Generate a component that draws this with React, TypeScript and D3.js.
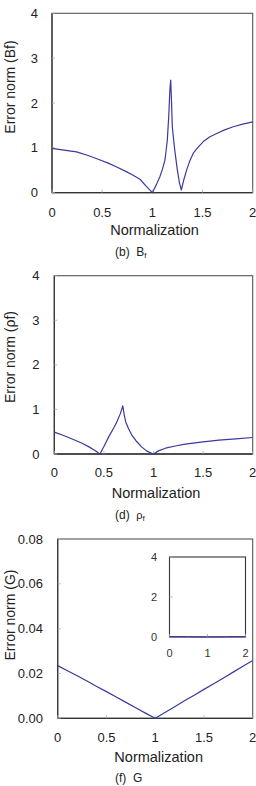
import React, { useEffect } from "react";
import * as d3 from "d3";

// ---------- data ----------
const bfX = [0, 0.12, 0.245, 0.36, 0.48, 0.56, 0.64, 0.74, 0.8, 0.877, 0.94, 1.0, 1.04, 1.076, 1.1, 1.126, 1.149, 1.163, 1.175, 1.183, 1.19, 1.199, 1.219, 1.235, 1.249, 1.27, 1.289, 1.31, 1.342, 1.375, 1.408, 1.45, 1.508, 1.57, 1.641, 1.72, 1.807, 1.9, 2.0];
const bfY = [0.99, 0.95, 0.91, 0.83, 0.73, 0.66, 0.58, 0.47, 0.4, 0.3, 0.14, 0.0, 0.18, 0.36, 0.52, 0.73, 1.17, 1.69, 2.3, 2.51, 2.1, 1.47, 1.03, 0.75, 0.51, 0.22, 0.06, 0.26, 0.51, 0.72, 0.88, 1.0, 1.14, 1.24, 1.32, 1.4, 1.47, 1.53, 1.58];

const rfX = [0, 0.1, 0.21, 0.28, 0.35, 0.41, 0.46, 0.5, 0.55, 0.6, 0.63, 0.665, 0.69, 0.705, 0.72, 0.75, 0.78, 0.83, 0.88, 0.93, 0.985, 1.0, 1.05, 1.12, 1.22, 1.32, 1.5, 1.66, 1.83, 2.0];
const rfY = [0.49, 0.41, 0.31, 0.24, 0.16, 0.08, 0.0, 0.17, 0.39, 0.59, 0.72, 0.9, 1.08, 0.88, 0.72, 0.56, 0.43, 0.28, 0.16, 0.07, 0.01, 0.0, 0.07, 0.13, 0.18, 0.22, 0.27, 0.31, 0.34, 0.37];

const gX = [0, 0.1, 0.2, 0.3, 0.4, 0.5, 0.6, 0.7, 0.8, 0.9, 1.0, 1.1, 1.2, 1.3, 1.4, 1.5, 1.6, 1.7, 1.8, 1.9, 2.0];
const gY = [0.0235, 0.0212, 0.019, 0.0166, 0.0142, 0.0119, 0.0095, 0.0071, 0.0047, 0.0023, 0.0, 0.0026, 0.0052, 0.0078, 0.0103, 0.0129, 0.0154, 0.018, 0.0206, 0.0232, 0.0258];

const xTicks = [0, 0.5, 1, 1.5, 2];
const xTickLabels = ["0", "0.5", "1", "1.5", "2"];
const yTicksAB = [0, 1, 2, 3, 4];
const yTicksG = [0, 0.02, 0.04, 0.06, 0.08];
const yTickLabelsG = ["0.00", "0.02", "0.04", "0.06", "0.08"];
const insetXTicks = [0, 1, 2];
const insetYTicks = [0, 2, 4];

const FONT = "'Liberation Sans', Arial, Helvetica, sans-serif";
const LINE = "#3a3a9e";

type PanelProps = {
  x0: number; x1: number; yTop: number; yBot: number;
  yMax: number; yTicks: number[]; yLabels: string[]; yLabelRight: number;
  xs: number[]; ys: number[];
  xLabelY: number;
  normX: number; normY: number;
  yTitle: React.ReactNode; yTitleX: number; yTitleY: number;
  caption: React.ReactNode; capX: number; capY: number;
  children?: React.ReactNode;
};

function Panel(p: PanelProps) {
  const x = d3.scaleLinear().domain([0, 2]).range([p.x0, p.x1]);
  const y = d3.scaleLinear().domain([0, p.yMax]).range([p.yBot, p.yTop]);
  const pts: [number, number][] = p.xs.map((v, i) => [v, p.ys[i]]);
  const line = d3.line<[number, number]>().x((d) => x(d[0])).y((d) => y(d[1]));
  return (
    <g>
      <rect x={p.x0} y={p.yTop} width={p.x1 - p.x0} height={p.yBot - p.yTop} fill="none" stroke="#555" strokeWidth={1.1} />
      <line x1={p.x0} x2={p.x0} y1={p.yTop} y2={p.yBot} stroke="#333" strokeWidth={1.2} />
      <line x1={p.x0} x2={p.x1} y1={p.yBot} y2={p.yBot} stroke="#333" strokeWidth={1.3} />
      {xTicks.map((t) => (
        <line key={"xt" + t} x1={x(t)} x2={x(t)} y1={p.yBot} y2={p.yBot - 3} stroke="#aaa" strokeWidth={0.8} />
      ))}
      {p.yTicks.map((t) => (
        <line key={"yt" + t} x1={p.x0} x2={p.x0 + 3} y1={y(t)} y2={y(t)} stroke="#aaa" strokeWidth={0.8} />
      ))}
      <path d={line(pts) || ""} fill="none" stroke={LINE} strokeWidth={1.2} strokeLinejoin="round" />
      {xTicks.map((t, i) => (
        <text key={"xl" + t} x={x(t)} y={p.xLabelY} textAnchor="middle" fontSize={13} fill="#222" fontFamily={FONT}>{xTickLabels[i]}</text>
      ))}
      {p.yTicks.map((t, i) => (
        <text key={"yl" + t} x={p.yLabelRight} y={y(t) + 4.5} textAnchor="end" fontSize={13} fill="#222" fontFamily={FONT}>{p.yLabels[i]}</text>
      ))}
      <text x={p.normX} y={p.normY} textAnchor="middle" fontSize={14.5} fill="#222" fontFamily={FONT}>Normalization</text>
      <text transform={`translate(${p.yTitleX},${p.yTitleY}) rotate(-90)`} textAnchor="middle" fontSize={14} fill="#222" fontFamily={FONT}>{p.yTitle}</text>
      <text x={p.capX} y={p.capY} fontSize={12} fill="#222" fontFamily={FONT}>{p.caption}</text>
      {p.children}
    </g>
  );
}

function Inset() {
  const x = d3.scaleLinear().domain([0, 2]).range([169.5, 245.5]);
  const y = d3.scaleLinear().domain([0, 4]).range([637, 557]);
  const pts: [number, number][] = gX.map((v, i) => [v, gY[i]]);
  const line = d3.line<[number, number]>().x((d) => x(d[0])).y((d) => y(d[1]));
  return (
    <g>
      <rect x={x(0)} y={y(4)} width={x(2) - x(0)} height={y(0) - y(4)} fill="white" stroke="#333" strokeWidth={1.1} />
      {insetXTicks.map((t) => (
        <line key={"ixt" + t} x1={x(t)} x2={x(t)} y1={y(0)} y2={y(0) - 3} stroke="#aaa" strokeWidth={0.8} />
      ))}
      {insetYTicks.map((t) => (
        <line key={"iyt" + t} x1={x(0)} x2={x(0) + 3} y1={y(t)} y2={y(t)} stroke="#aaa" strokeWidth={0.8} />
      ))}
      <path d={line(pts) || ""} fill="none" stroke={LINE} strokeWidth={1.2} />
      {insetXTicks.map((t) => (
        <text key={"ixl" + t} x={x(t)} y={656.5} textAnchor="middle" fontSize={11} fill="#333" fontFamily={FONT}>{String(t)}</text>
      ))}
      {insetYTicks.map((t) => (
        <text key={"iyl" + t} x={157} y={y(t) + 4} textAnchor="end" fontSize={11} fill="#333" fontFamily={FONT}>{String(t)}</text>
      ))}
    </g>
  );
}

export default function App() {
  useEffect(() => {
    document.body.style.margin = "0";
  }, []);
  const yLabelsAB = yTicksAB.map(String);
  return (
    <svg width={256} height={786} viewBox="0 0 256 786" style={{ position: "absolute", left: 0, top: 0, background: "white" }}>
      <rect x={0} y={0} width={256} height={786} fill="white" />
      <Panel
        x0={52} x1={252.7} yTop={13.3} yBot={192.7}
        yMax={4} yTicks={yTicksAB} yLabels={yLabelsAB} yLabelRight={38}
        xs={bfX} ys={bfY}
        xLabelY={216.5}
        normX={154.5} normY={235}
        yTitle={"Error norm (Bf)"} yTitleX={15} yTitleY={87}
        caption={<>(b)&#160;&#160;B<tspan fontSize={8} dy={2}>f</tspan></>} capX={115} capY={256}
      />
      <Panel
        x0={54.3} x1={252.7} yTop={275.7} yBot={454}
        yMax={4} yTicks={yTicksAB} yLabels={yLabelsAB} yLabelRight={39.5}
        xs={rfX} ys={rfY}
        xLabelY={477}
        normX={156} normY={498}
        yTitle={"Error norm (ρf)"} yTitleX={15} yTitleY={357}
        caption={<>(d)&#160;&#160;<tspan fontSize={11}>ρ</tspan><tspan fontSize={8} dy={2}>f</tspan></>} capX={115} capY={519}
      />
      <Panel
        x0={57.7} x1={252.7} yTop={539} yBot={718.3}
        yMax={0.08} yTicks={yTicksG} yLabels={yTickLabelsG} yLabelRight={43}
        xs={gX} ys={gY}
        xLabelY={742}
        normX={158.7} normY={761.5}
        yTitle={"Error norm (G)"} yTitleX={15} yTitleY={615}
        caption={<>(f)&#160;&#160;G</>} capX={115} capY={781.5}
      >
        <Inset />
      </Panel>
    </svg>
  );
}
